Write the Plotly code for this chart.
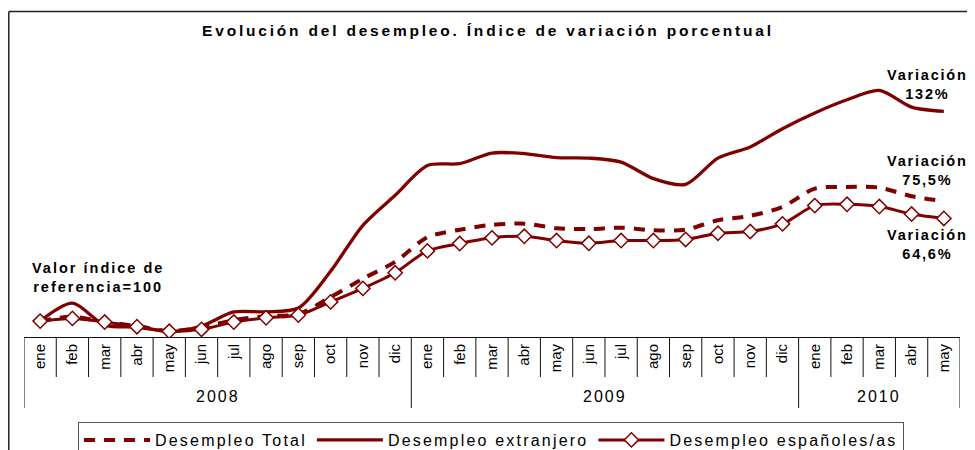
import plotly.graph_objects as go

# ---- data ----
years = ["2008"] * 12 + ["2009"] * 12 + ["2010"] * 5
months = ["ene", "feb", "mar", "abr", "may", "jun", "jul", "ago", "sep", "oct", "nov", "dic",
          "ene", "feb", "mar", "abr", "may", "jun", "jul", "ago", "sep", "oct", "nov", "dic",
          "ene", "feb", "mar", "abr", "may"]
total = [100, 102.7, 99.4, 96.9, 93.7, 96.2, 100.6, 103.1, 104.4, 115.1, 126.7, 137.3,
         152.8, 157.5, 160.6, 161.3, 158.5, 157.9, 158.8, 157.2, 157.6, 163.5, 166.2, 171.9,
         183.4, 184.4, 184.0, 178.6, 175.5]
extranjero = [100, 111.3, 97.5, 96.2, 93.5, 96.9, 105.8, 105.8, 108.2, 131.4, 160.3, 179.2,
              198.0, 199.1, 205.8, 205.4, 202.9, 202.6, 200.1, 189.7, 186.1, 202.6, 209.6, 221.1,
              231.0, 239.3, 245.2, 234.7, 232.0]
espanoles = [100, 101.7, 99.4, 96.5, 93.6, 94.8, 99.4, 102.1, 103.8, 112.1, 120.6, 130.4,
             144.2, 148.8, 152.4, 153.4, 150.7, 149.0, 150.7, 150.7, 151.4, 155.3, 156.4, 161.2,
             172.7, 173.5, 172.1, 167.4, 164.6]
series_names = ["Desempleo Total", "Desempleo extranjero", "Desempleo españoles/as"]
title_text = "Evolución del desempleo. Índice de variación porcentual"
ref_note = "Valor índice de<br>referencia=100"
var_labels = ["Variación<br>132%", "Variación<br>75,5%", "Variación<br>64,6%"]

RED = "#800000"
FONT = "Liberation Sans, Arial, sans-serif"
x = list(range(len(months)))
OFF = 8  # page body margin offset


def sp(t, ls=2):
    return f'<span style="letter-spacing:{ls}px">{t}</span>'


fig = go.Figure()
fig.add_trace(go.Scatter(x=x, y=total, name=sp(series_names[0], 2.2), mode="lines",
                         line=dict(color=RED, width=4, dash="11px,9px", shape="spline", smoothing=0.8)))
fig.add_trace(go.Scatter(x=x, y=extranjero, name=sp(series_names[1], 2.2), mode="lines",
                         line=dict(color=RED, width=3.3, shape="spline", smoothing=0.8)))
fig.add_trace(go.Scatter(x=x, y=espanoles, name=sp(series_names[2], 2.2), mode="lines+markers",
                         line=dict(color=RED, width=3, shape="spline", smoothing=0.8),
                         marker=dict(symbol="diamond", size=11, color="white",
                                     line=dict(color=RED, width=1.5))))

# axis box dividers
H_PLOT = 286.0
W_PLOT = 936.0
shapes = []
n = len(months)
for i in range(n + 1):
    is_year_edge = i == 0 or i == n or years[i] != years[i - 1]
    shapes.append(dict(type="line", xref="x", yref="paper", x0=i - 0.5, x1=i - 0.5,
                       y0=0, y1=-(71 if is_year_edge else 40) / H_PLOT,
                       line=dict(color="#111111", width=1)))
# outer frame (left, top, right edges)
fx0 = (8.8 - 24) / W_PLOT
fx1 = (972 - 24) / W_PLOT
fy_top = (337 - 11.5) / H_PLOT
fy_bot = (337 - 470) / H_PLOT
for (a, b, c, d) in [(fx0, fy_bot, fx0, fy_top), (fx0, fy_top, fx1, fy_top), (fx1, fy_top, fx1, fy_bot)]:
    shapes.append(dict(type="line", xref="paper", yref="paper", x0=a, y0=b, x1=c, y1=d,
                       line=dict(color="#222222", width=1.5), layer="above"))

annotations = []
# year labels
seen = []
for yv in years:
    if yv not in seen:
        seen.append(yv)
for yv in seen:
    idx = [i for i, v in enumerate(years) if v == yv]
    annotations.append(dict(x=sum(idx) / len(idx), y=-(396 - 337) / H_PLOT, xref="x", yref="paper",
                            xanchor="center", yanchor="middle",
                            text=sp(yv, 2), showarrow=False,
                            font=dict(family=FONT, size=16, color="black")))
annotations.append(dict(x=1.8, y=127.5, xref="x", yref="y", text="<b>" + sp(ref_note, 2) + "</b>",
                        xanchor="center", yanchor="middle",
                        showarrow=False, font=dict(family=FONT, size=14.5, color="black")))
for txt, yy in zip(var_labels, [249, 195, 148]):
    annotations.append(dict(x=27.48, y=yy, xref="x", yref="y", text="<b>" + sp(txt, 1.8) + "</b>",
                            xanchor="center", yanchor="middle",
                            showarrow=False, font=dict(family=FONT, size=14.5, color="black")))

fig.update_layout(
    width=975, height=450,
    margin=dict(l=24 - OFF, r=975 - 960 + OFF, t=51 - OFF, b=450 - 337 + OFF, autoexpand=False),
    paper_bgcolor="white", plot_bgcolor="white",
    title=dict(text="<b>" + sp(title_text, 2.8) + "</b>", x=(488 - OFF) / 975, xanchor="center",
               y=1 - (31 - OFF) / 450, yanchor="middle", yref="container",
               font=dict(family=FONT, size=15.5, color="black")),
    font=dict(family=FONT, color="black"),
    xaxis=dict(range=[-0.5, n - 0.5], tickvals=x, ticktext=months, tickangle=-90,
               ticks="", showgrid=False, zeroline=False, showline=True, automargin=False,
               linecolor="#111111", linewidth=1,
               tickfont=dict(family=FONT, size=15, color="black")),
    yaxis=dict(range=[90, 270], visible=False, showgrid=False, zeroline=False),
    showlegend=True,
    legend=dict(orientation="h", x=(491 - 24) / W_PLOT, xanchor="center",
                y=(337 - 422) / H_PLOT, yanchor="top",
                bordercolor="#555555", borderwidth=1, bgcolor="white",
                font=dict(family=FONT, size=16, color="black"), itemwidth=66,
                tracegroupgap=0),
    shapes=shapes,
    annotations=annotations,
)

fig.write_html("out.html")
